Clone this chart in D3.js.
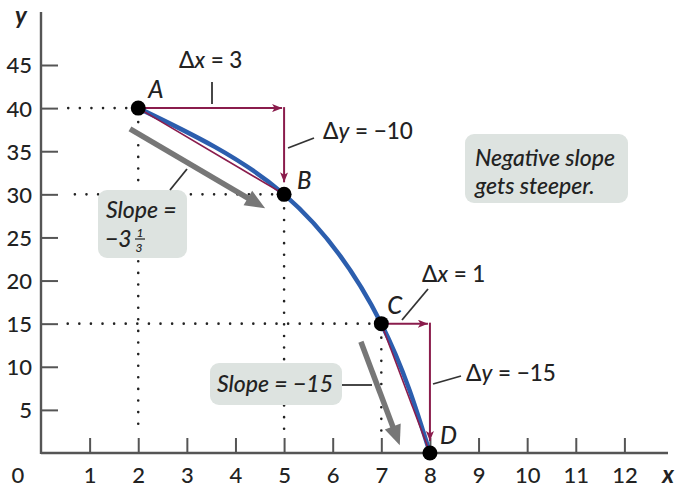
<!DOCTYPE html>
<html>
<head>
<meta charset="utf-8">
<script src="https://cdn.jsdelivr.net/npm/d3@7"></script>
<style>
  html, body { margin: 0; padding: 0; background: #fff; }
  svg { display: block; }
  text { font-family: Lato, "Open Sans", sans-serif; font-weight: 500; fill: #222; }
</style>
</head>
<body>
<svg id="chart" width="678" height="487"></svg>
<script>
// Curve points A..D
const pointNames = ["A", "B", "C", "D"];
const pointX = [2, 5, 7, 8];
const pointY = [40, 30, 15, 0];

// Axis ticks
const xTicks = [1, 2, 3, 4, 5, 6, 7, 8, 9, 10, 11, 12];
const yTicks = [5, 10, 15, 20, 25, 30, 35, 40, 45];

// Slope steps: from point index to point index
const stepFrom = [0, 2];
const stepTo = [1, 3];
const stepDx = [3, 1];
const stepDy = [-10, -15];

// Gray direction arrows (data units): start and tip
const dirStartX = [1.83, 6.58];
const dirStartY = [37.6, 12.9];
const dirEndX = [4.61, 7.38];
const dirEndY = [28.4, 0.9];

const svg = d3.select("#chart");
const x = d3.scaleLinear().domain([0, 12]).range([41, 624.4]);
const y = d3.scaleLinear().domain([0, 45]).range([453, 65]);

const maroon = "#8a1c4c";
const blue = "#2c5eae";
const axisColor = "#555";
const boxFill = "#dde3e0";
const font = "Lato, 'Open Sans', sans-serif";

const defs = svg.append("defs");
defs.append("marker")
  .attr("id", "headM")
  .attr("viewBox", "0 0 10 8")
  .attr("refX", 10).attr("refY", 4)
  .attr("markerWidth", 10).attr("markerHeight", 8)
  .attr("markerUnits", "userSpaceOnUse")
  .attr("orient", "auto")
  .append("path").attr("d", "M0,0 L10,4 L0,8 L2.5,4 Z").attr("fill", maroon);

// Dotted guide lines
const dotted = svg.append("g")
  .attr("stroke", "#222").attr("stroke-width", 2.6)
  .attr("stroke-linecap", "round").attr("stroke-dasharray", "0 11.6");
pointX.forEach((px, i) => {
  if (pointY[i] === 0) return;
  dotted.append("line")
    .attr("x1", x(px) - 12).attr("x2", x(0) + 24)
    .attr("y1", y(pointY[i])).attr("y2", y(pointY[i]));
  dotted.append("line")
    .attr("x1", x(px)).attr("x2", x(px))
    .attr("y1", y(pointY[i]) + 14).attr("y2", y(0) - 18);
});

// Axes
const xAxis = svg.append("g")
  .attr("transform", `translate(0,${y(0)})`)
  .call(d3.axisBottom(x).tickValues(xTicks).tickSize(-15).tickPadding(30).tickFormat(d3.format("d")));
const yAxis = svg.append("g")
  .attr("transform", `translate(${x(0)},0)`)
  .call(d3.axisLeft(y).tickValues(yTicks).tickSize(-17).tickPadding(9).tickFormat(d3.format("d")));
[xAxis, yAxis].forEach(g => {
  g.select(".domain").remove();
  g.selectAll(".tick line").attr("stroke", axisColor).attr("stroke-width", 2);
  g.selectAll(".tick text").attr("font-size", 22).attr("fill", "#222")
    .style("font-family", font).style("font-weight", 500);
});
xAxis.selectAll(".tick text").attr("dy", "0");
yAxis.selectAll(".tick text").attr("dy", "0.36em");

svg.append("line")
  .attr("x1", x(0)).attr("x2", 668).attr("y1", y(0)).attr("y2", y(0))
  .attr("stroke", axisColor).attr("stroke-width", 2.4);
svg.append("line")
  .attr("x1", x(0)).attr("x2", x(0)).attr("y1", 12).attr("y2", y(0) + 1)
  .attr("stroke", axisColor).attr("stroke-width", 2.4);

svg.append("text").attr("x", 18).attr("y", y(0) + 30).attr("text-anchor", "middle")
  .attr("font-size", 22).text("0");
svg.append("text").attr("x", 668).attr("y", y(0) + 30).attr("text-anchor", "middle")
  .attr("font-size", 24).style("font-style", "italic").style("font-weight", "bold").text("x");
svg.append("text").attr("x", 21).attr("y", 24).attr("text-anchor", "middle")
  .attr("font-size", 24).style("font-style", "italic").style("font-weight", "bold").text("y");

// The curve
const pts = pointX.map((px, i) => [x(px), y(pointY[i])]);
svg.append("path")
  .attr("d", d3.line().curve(d3.curveNatural)(pts))
  .attr("fill", "none").attr("stroke", blue).attr("stroke-width", 4.5);

// Slope steps: chord, run and rise arrows
stepFrom.forEach((fi, k) => {
  const ti = stepTo[k];
  const x0 = x(pointX[fi]), y0 = y(pointY[fi]);
  const x1 = x(pointX[fi] + stepDx[k]), y1 = y(pointY[fi] + stepDy[k]);
  svg.append("line").attr("x1", x0).attr("y1", y0).attr("x2", x(pointX[ti])).attr("y2", y(pointY[ti]))
    .attr("stroke", maroon).attr("stroke-width", 1.6);
  svg.append("line").attr("x1", x0 + 6).attr("y1", y0).attr("x2", x1 - 2).attr("y2", y0)
    .attr("stroke", maroon).attr("stroke-width", 2).attr("marker-end", "url(#headM)");
  svg.append("line").attr("x1", x1).attr("y1", y0 - 1).attr("x2", x1).attr("y2", y1 - 12)
    .attr("stroke", maroon).attr("stroke-width", 2).attr("marker-end", "url(#headM)");
});

// Gray direction arrows
dirStartX.forEach((sx, i) => {
  const x0 = x(sx), y0 = y(dirStartY[i]), x1 = x(dirEndX[i]), y1 = y(dirEndY[i]);
  const ang = Math.atan2(y1 - y0, x1 - x0);
  const len = 20, half = 8.5;
  const bx = x1 - len * Math.cos(ang), by = y1 - len * Math.sin(ang);
  svg.append("line").attr("x1", x0).attr("y1", y0).attr("x2", bx + 3 * Math.cos(ang)).attr("y2", by + 3 * Math.sin(ang))
    .attr("stroke", "#777").attr("stroke-width", 5.5);
  const nx = -Math.sin(ang), ny = Math.cos(ang);
  svg.append("path")
    .attr("d", `M${x1},${y1} L${bx + nx * half},${by + ny * half} L${bx - nx * half},${by - ny * half} Z`)
    .attr("fill", "#777");
});

// Points and their letters
const letterDx = [10, 13, 6, 10];
const letterDy = [-10, -5, -10, -9];
pts.forEach((p, i) => {
  svg.append("circle").attr("cx", p[0]).attr("cy", p[1]).attr("r", 7.5).attr("fill", "#000");
  svg.append("text").attr("x", p[0] + letterDx[i]).attr("y", p[1] + letterDy[i])
    .attr("font-size", 24).attr("font-style", "italic").text(pointNames[i]);
});

// Annotations
const ann = svg.append("g");
function leader(x1, y1, x2, y2) {
  ann.append("line").attr("x1", x1).attr("y1", y1).attr("x2", x2).attr("y2", y2)
    .attr("stroke", "#333").attr("stroke-width", 1.8);
}
function delta(xp, yp, v, value) {
  const t = ann.append("text").attr("x", xp).attr("y", yp).attr("font-size", 22.5);
  t.append("tspan").text("\u0394");
  t.append("tspan").attr("font-style", "italic").text(v);
  t.append("tspan").text(" = " + (value < 0 ? "\u2212" + Math.abs(value) : value));
}
function box(x0, y0, w, h) {
  ann.append("rect").attr("x", x0).attr("y", y0).attr("width", w).attr("height", h)
    .attr("rx", 9).attr("fill", boxFill);
}

delta(179, 68, "x", stepDx[0]);
leader(212, 82, 212, 104);
delta(323, 139, "y", stepDy[0]);
leader(288, 148, 314, 138);
delta(422, 282, "x", stepDx[1]);
leader(402, 320, 428, 289);
delta(466, 381, "y", stepDy[1]);
leader(433, 384, 461, 376);

// Slope = -3 1/3 box
box(98, 190, 89, 68);
leader(170, 190, 187, 169);
ann.append("text").attr("x", 106).attr("y", 218).attr("font-size", 23).attr("font-style", "italic").text("Slope =");
ann.append("text").attr("x", 105).attr("y", 247).attr("font-size", 23).attr("font-style", "italic").text("\u22123");
ann.append("text").attr("x", 140).attr("y", 237).attr("font-size", 12).attr("font-style", "italic").attr("text-anchor", "middle").text("1");
ann.append("line").attr("x1", 135).attr("x2", 145).attr("y1", 239).attr("y2", 239).attr("stroke", "#222").attr("stroke-width", 1.2);
ann.append("text").attr("x", 139).attr("y", 252).attr("font-size", 12).attr("font-style", "italic").attr("text-anchor", "middle").text("3");

// Slope = -15 box
box(210, 363, 132, 42);
leader(342, 385, 372, 385);
ann.append("text").attr("x", 217).attr("y", 392).attr("font-size", 23).attr("font-style", "italic").text("Slope = \u221215");

// Note box
box(465, 134, 163, 69);
ann.append("text").attr("x", 475).attr("y", 166).attr("font-size", 23).attr("font-style", "italic").text("Negative slope");
ann.append("text").attr("x", 475).attr("y", 194).attr("font-size", 23).attr("font-style", "italic").text("gets steeper.");
</script>
</body>
</html>
